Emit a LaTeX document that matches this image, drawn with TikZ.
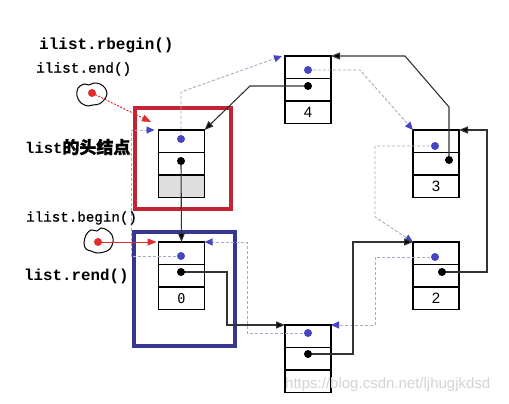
\documentclass[tikz,border=0pt]{standalone}
\usepackage{fontspec}
\setmonofont{Liberation Mono}
\newfontfamily\monomed[FakeBold=0.9]{Liberation Mono}
\newfontfamily\cjk[FakeBold=1.2]{Noto Sans CJK SC}
\newfontfamily\numfont{Liberation Sans}
\newfontfamily\zerofont{DejaVu Sans Mono}
\usetikzlibrary{arrows.meta,calc}
\definecolor{dotblue}{RGB}{70,70,195}
\definecolor{dashgray}{RGB}{170,170,195}
\definecolor{redbox}{RGB}{195,35,50}
\definecolor{bluebox}{RGB}{55,55,145}
\definecolor{ptrred}{RGB}{225,45,45}
\definecolor{headgray}{RGB}{222,222,222}
\tikzset{
  cell/.style={draw=black, line width=1.1pt, minimum width=46pt, minimum height=22.5pt,
    inner sep=0pt, outer sep=0pt, anchor=north},
  bdot/.style={circle, fill=dotblue, inner sep=0pt, minimum size=8pt},
  kdot/.style={circle, fill=black, inner sep=0pt, minimum size=8pt},
  rdot/.style={circle, fill=ptrred, inner sep=0pt, minimum size=8pt},
  nextline/.style={draw=black!80, line width=1.1pt, -{Triangle[length=9pt,width=7pt,fill=black]}},
  prevline/.style={draw=dashgray, line width=0.9pt, dash pattern=on 3pt off 2pt,
    -{Triangle[length=8pt,width=7pt,color=dotblue]}},
  redptr/.style={draw=ptrred, line width=1pt, -{Triangle[length=9pt,width=7pt,color=ptrred]}},
  lbl/.style={anchor=west, inner sep=0pt},
  blob/.style={draw=black, line width=1pt},
  frame/.style={line width=3.3pt},
}
\newcommand\lnode[5]{%
  \node[cell] (#1-a) at (#2,#3) {};
  \node[cell] (#1-b) at (#1-a.south) {};
  \node[cell,fill=#5] (#1-c) at (#1-b.south) {#4};
}
\begin{document}
\begin{tikzpicture}[x=1pt,y=-1pt]
\useasboundingbox[fill=white] (0,0) rectangle (509,404);

% frames
\draw[frame, draw=redbox] (135,108) rectangle (231,209);
\draw[frame, draw=bluebox] (134,232) rectangle (235,346);

% list nodes
\lnode{H}{181.5}{130}{}{headgray}
\lnode{N0}{181.5}{242}{\zerofont\fontsize{13.5}{13.5}\selectfont 0}{white}
\lnode{N4}{308}{56}{\numfont\fontsize{15}{15}\selectfont 4}{white}
\lnode{N3}{436}{130}{\numfont\fontsize{15}{15}\selectfont 3}{white}
\lnode{N2}{436}{242}{\numfont\fontsize{15}{15}\selectfont 2}{white}
\lnode{N5}{308}{325}{}{white}

% dot positions
\coordinate (H-p) at (181,139);  \coordinate (H-n) at (181,161);
\coordinate (N0-p) at (181,256); \coordinate (N0-n) at (181,272);
\coordinate (N4-p) at (308,70);  \coordinate (N4-n) at (308,86);
\coordinate (N3-p) at (435,146); \coordinate (N3-n) at (449,160);
\coordinate (N2-p) at (435,257); \coordinate (N2-n) at (442,272);
\coordinate (N5-p) at (308,333); \coordinate (N5-n) at (308,354);

% prev pointers (dashed)
\draw[prevline] (H-p) -- ++(0,-47) -- ($(N4-a.north west)+(-3,0)$);
\draw[prevline] (N4-p) -- ++(52,0) -- (N3-a.north west);
\draw[prevline] (N3-p) -- ++(-60,0) -- ++(0,71) -- (N2-a.north west);
\draw[prevline] (N2-p) -- ++(-60,0) |- (N5-a.north east);
\draw[prevline] (N5-p) -- ++(-61,0) |- (N0-a.north east);
\draw[prevline] (N0-p) -- ++(-50,0) |- ($(H-a.north west)+(-4,0)$);

% next pointers (solid)
\draw[nextline] (H-n) -- (N0-a.north);
\draw[nextline] (N0-n) -- ++(46,0) |- (N5-a.north west);
\draw[nextline] (N5-n) -- ++(45,0) |- (N2-a.north west);
\draw[nextline] (N2-n) -- ++(45,0) |- (N3-a.north east);
\draw[nextline] (N3-n) -- ++(0,-53) -- ++(-44,-51) -- (N4-a.north east);
\draw[nextline] (N4-n) -- ++(-58,0) -- (H-a.north east);

% dots
\foreach \n in {H,N0,N4,N3,N2,N5}{
  \node[bdot] at (\n-p) {};
  \node[kdot] at (\n-n) {};
}

% iterators (blobs)
\draw[blob] plot[smooth cycle, tension=0.6] coordinates {
  (77,96) (78,88) (84,84) (89,85) (94,83) (100,84) (105,88) (107,94) (104,100) (99,104) (93,105) (88,106) (81,103)};
\draw[blob] plot[smooth cycle, tension=0.6] coordinates {
  (84,243) (86,235) (91,230) (97,231) (101,228) (107,230) (112,235) (113,242) (110,249) (104,252) (97,253) (91,251) (86,249)};
\node[rdot] (E1) at (92,93) {};
\node[rdot] (E2) at (98,242) {};
\coordinate (endtip) at (151,122);
\draw[redptr, dash pattern=on 2pt off 1.5pt] (E1.center) -- (endtip);
\draw[redptr] (E2.center) -- ($(N0-a.north west)+(-2,0)$);

% labels
\node[lbl, font=\ttfamily\bfseries\fontsize{16}{16}\selectfont] (l1) at (39,45) {ilist.rbegin()};
\node[lbl, font=\monomed\fontsize{14.4}{14.4}\selectfont] (l2) at (36,69) {ilist.end()};
\node[lbl, font=\ttfamily\bfseries\fontsize{15.5}{15.5}\selectfont] (l3) at (25,147) {list{\cjk\fontsize{17}{17}\selectfont 的头结点}};
\node[lbl, font=\monomed\fontsize{14.2}{14.2}\selectfont] (l4) at (26,218) {ilist.begin()};
\node[lbl, font=\ttfamily\bfseries\fontsize{15.8}{15.8}\selectfont] (l5) at (24,276) {list.rend()};

% watermark
\node[text=black!17, font=\numfont\fontsize{15}{15}\selectfont, anchor=west, inner sep=0pt] (wm) at (285,385) {https://blog.csdn.net/ljhugjkdsd};
\end{tikzpicture}
\end{document}
